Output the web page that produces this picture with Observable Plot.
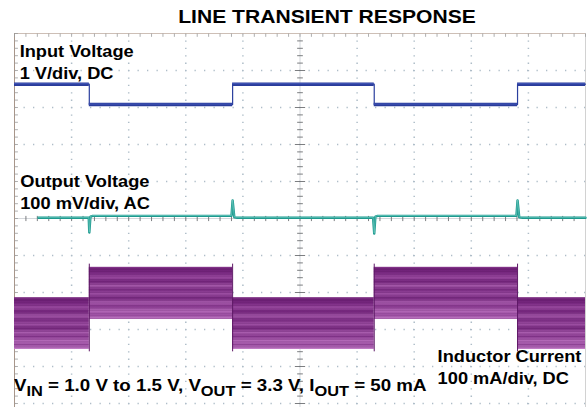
<!DOCTYPE html>
<html><head><meta charset="utf-8">
<script src="https://cdn.jsdelivr.net/npm/d3@7"></script>
<script src="https://cdn.jsdelivr.net/npm/@observablehq/plot@0.6"></script>
<style>
body{margin:0;background:#fff;}
#wrap{position:relative;width:588px;height:407px;overflow:hidden;font-family:"Liberation Sans",Arial,sans-serif;background:#fff;}
#title{position:absolute;left:327px;top:7.5px;font-weight:bold;font-size:18.5px;line-height:1;white-space:nowrap;transform:translateX(-50%) scaleX(1.14);color:#000;}
#spacer{height:32px;}
#cap{position:absolute;left:14px;top:378px;font-weight:bold;font-size:16px;line-height:1;white-space:nowrap;transform:scaleX(1.17);transform-origin:0 0;color:#000;}
#cap .sub{font-size:14px;position:relative;top:5px;}
svg{display:block;}
</style></head>
<body>
<div id="wrap">
  <div id="title">LINE TRANSIENT RESPONSE</div>
  <div id="spacer"></div>
  <div id="chart"></div>
  <div id="cap">V<span class="sub">IN</span> = 1.0 V to 1.5 V, V<span class="sub">OUT</span> = 3.3 V, I<span class="sub">OUT</span> = 50 mA</div>
</div>
<script>
// ---- data (screen divisions: x from left edge, y from top edge) ----
const gridX = [0,1,2,3,4,5,6,7,8,9,10];
const gridY = [0,1,2,3,4,5,6,7,8,9,10];

// input voltage trace (1 V/div, DC)
const inputX = [0, 1.31, 1.31, 3.82, 3.82, 6.30, 6.30, 8.81, 8.81, 10];
const inputY = [1.37, 1.37, 1.92, 1.92, 1.37, 1.37, 1.92, 1.92, 1.37, 1.37];

// output voltage trace (100 mV/div, AC)
const outputX = [0.42, 1.30, 1.31, 1.33, 1.37, 3.80, 3.82, 3.85, 3.90, 6.28, 6.30, 6.32, 6.36, 8.79, 8.81, 8.84, 8.90, 10];
const outputY = [4.98, 4.98, 5.38, 4.95, 4.93, 4.93, 4.51, 4.97, 4.98, 4.98, 5.41, 4.95, 4.93, 4.93, 4.51, 4.97, 4.98, 4.98];

// inductor current envelope (100 mA/div, DC)
const indX1 = [0, 1.31, 3.82, 6.30, 8.81];
const indX2 = [1.31, 3.82, 6.30, 8.81, 10];
const indTop = [7.14, 6.32, 7.14, 6.32, 7.14];
const indBottom = [8.54, 7.73, 8.54, 7.73, 8.54];

// trace labels
const labelText = ["Input Voltage\n1 V/div, DC", "Output Voltage\n100 mV/div, AC", "Inductor Current\n100 mA/div, DC"];
const labelX = [0.09, 0.10, 7.41];
const labelY = [1.22, 4.73, 9.46];

// ---- derived tables ----
const input = inputX.map((x, i) => ({x, y: inputY[i]}));
const inputSegs = [];
for (let i = 0; i < inputX.length; i += 2) inputSegs.push({x1: inputX[i], x2: inputX[i+1], y: inputY[i]});
const output = outputX.map((x, i) => ({x, y: outputY[i]}));
const ind = indX1.map((x1, i) => ({x1, x2: indX2[i], top: indTop[i], bottom: indBottom[i]}));
const indEdges = indX1.slice(1).map((x, i) => ({x, y1: Math.min(indTop[i], indTop[i+1]) - 0.1, y2: Math.max(indBottom[i], indBottom[i+1]) + 0.05}));
const labels = labelText.map((t, i) => ({t, x: labelX[i], y: labelY[i]}));

const minorX = d3.range(0, 50.5).map(k => k / 5);
const minorY = d3.range(0, 51).map(k => k / 5).filter(v => v <= 10.1);

const H = 375, top0 = 1, divPx = 37;
const yMax = (H - top0) / divPx;

const gridColor = "#aebdc8";
const isMajor = d => Math.abs(d - Math.round(d)) < 1e-6;
const svg = Plot.plot({
  width: 588, height: H,
  marginLeft: 14, marginRight: 3, marginTop: top0, marginBottom: 0,
  x: {domain: [0, 10], axis: null},
  y: {domain: [yMax, 0], axis: null},
  style: {background: "white", fontFamily: "'Liberation Sans', Arial, sans-serif"},
  marks: [
    // dotted graticule
    Plot.ruleX(gridX.filter(v => v > 0 && v < 10 && v !== 5), {stroke: gridColor, strokeWidth: 1.5, strokeDasharray: "1.3,6.1"}),
    Plot.ruleY(gridY.filter(v => v > 0 && v !== 5), {stroke: gridColor, strokeWidth: 1.5, strokeDasharray: "1.3,8.2"}),
    // centre axes with minor ticks
    Plot.ruleX([5], {stroke: "#c9cdd2", strokeWidth: 0.8}),
    Plot.ruleY([5], {stroke: "#c9cdd2", strokeWidth: 0.8}),
    Plot.link(minorY, {x1: d => 5 - (isMajor(d) ? 0.09 : 0.05), x2: d => 5 + (isMajor(d) ? 0.09 : 0.05), y1: d => d, y2: d => d, stroke: "#6d6f73", strokeWidth: 0.9}),
    Plot.link(minorX, {y1: d => 5 - 0.07, y2: d => 5 + 0.07, x1: d => d, x2: d => d, stroke: "#6d6f73", strokeWidth: 0.9}),
    // frame
    Plot.ruleY([0], {stroke: "#cdbfb6", strokeWidth: 1}),
    Plot.ruleX([0], {stroke: "#a8968a", strokeWidth: 1}),
    Plot.ruleX([10], {stroke: "#d2d2d2", strokeWidth: 1}),
    Plot.link(minorX, {x1: d => d, x2: d => d, y1: 0, y2: 0.09, stroke: "#9a9a9a", strokeWidth: 0.8}),
    Plot.link(minorY, {x1: 0, x2: 0.06, y1: d => d, y2: d => d, stroke: "#9a9a9a", strokeWidth: 0.8}),
    // inductor current envelope
    Plot.rect(ind, {x1: "x1", x2: "x2", y1: "top", y2: "bottom", fill: "url(#indGrad)"}),
    Plot.rect(ind, {x1: "x1", x2: "x2", y1: "top", y2: "bottom", fill: "url(#indStripes)"}),
    Plot.link(indEdges, {x1: "x", x2: "x", y1: "y1", y2: "y2", stroke: "#5e1866", strokeWidth: 1}),
    // output voltage
    Plot.line(output, {x: "x", y: "y", stroke: "#1e9a8f", strokeWidth: 2.4}),
    Plot.line(output, {x: "x", y: "y", stroke: "#6cc9bf", strokeWidth: 0.7, dy: -0.4}),
    // input voltage
    Plot.line(input, {x: "x", y: "y", stroke: "#2b3f9e", strokeWidth: 1.2}),
    Plot.ruleY(inputSegs, {x1: "x1", x2: "x2", y: "y", stroke: "#2a3c9b", strokeWidth: 3.4}),
    Plot.ruleY(inputSegs, {x1: "x1", x2: "x2", y: "y", stroke: "#4a60c0", strokeWidth: 0.8, dy: -0.5}),
    // labels
    Plot.text(labels, {x: "x", y: "y", text: "t", textAnchor: "start", lineAnchor: "bottom", lineHeight: 1.33, fontSize: 16, fontWeight: "bold", fill: "#000"})
  ]
});

// gradient + stripe texture for the inductor-current envelope
const defs = d3.select(svg).insert("defs", ":first-child");
const grad = defs.append("linearGradient").attr("id", "indGrad").attr("x1", 0).attr("y1", 0).attr("x2", 0).attr("y2", 1);
[[0, "#8a3a90"], [0.04, "#6c1f74"], [0.12, "#7a2a82"], [0.2, "#9a4aa0"], [0.28, "#73257b"], [0.36, "#a357a8"],
 [0.44, "#7b2d83"], [0.52, "#9e50a4"], [0.6, "#75287d"], [0.68, "#a85cad"], [0.76, "#8a3b91"], [0.84, "#b46ab8"],
 [0.92, "#9d50a3"], [1, "#c47fc8"]].forEach(([o, c]) => grad.append("stop").attr("offset", o).attr("stop-color", c));
const pat = defs.append("pattern").attr("id", "indStripes").attr("patternUnits", "userSpaceOnUse").attr("width", 20).attr("height", 2.6);
pat.append("rect").attr("width", 20).attr("height", 0.8).attr("fill", "#4a0c52").attr("opacity", 0.25);

// labels are horizontally stretched in the reference
svg.querySelectorAll('g[aria-label="text"] text').forEach(el => {
  const t = el.getAttribute("transform");
  if (t && t.includes("translate")) el.setAttribute("transform", t + " scale(1.14,1)");
  else {
    const x = +el.getAttribute("x") || 0, y = +el.getAttribute("y") || 0;
    el.setAttribute("transform", `translate(${x},${y}) scale(1.14,1) translate(${-x},${-y})`);
  }
});

document.getElementById("chart").appendChild(svg);
</script>
</body></html>
